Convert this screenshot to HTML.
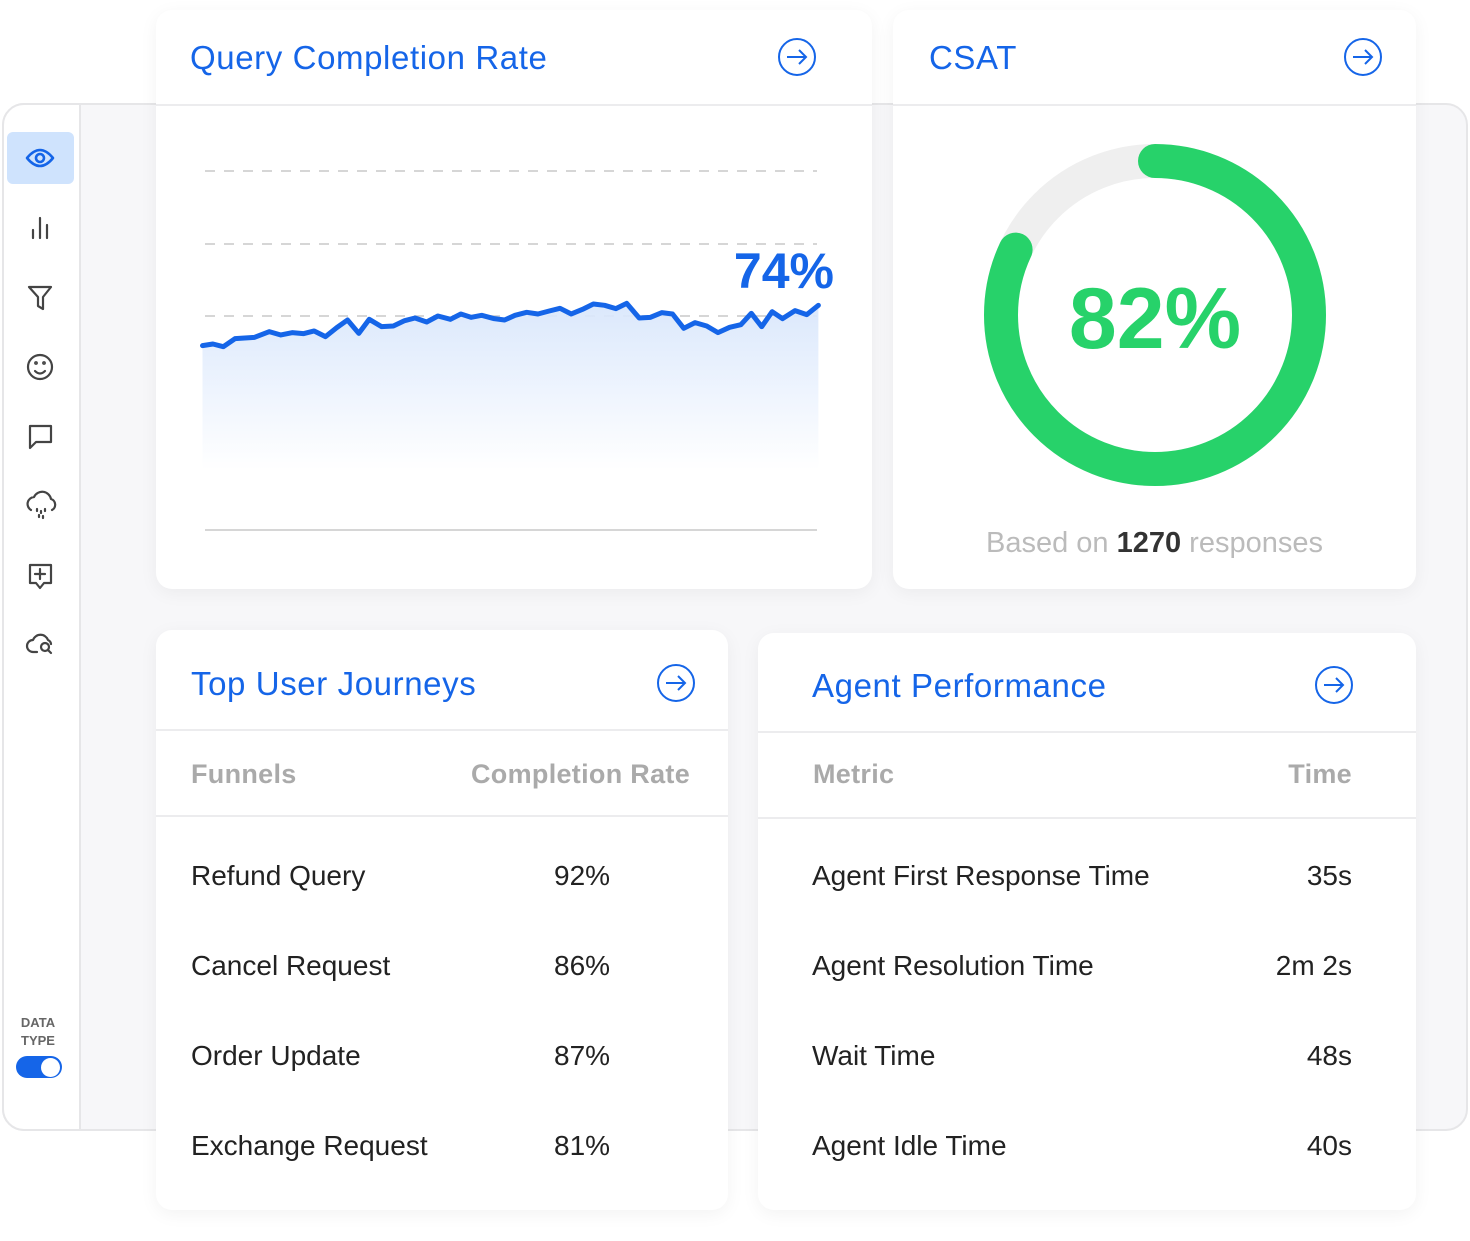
<!DOCTYPE html>
<html><head><style>
*{margin:0;padding:0;box-sizing:border-box}
body{width:1470px;height:1241px;background:#fff;position:relative;overflow:hidden;font-family:"Liberation Sans",sans-serif}
.bg{position:absolute;left:2px;top:103px;width:1466px;height:1028px;border:2px solid #e6e6e8;border-radius:22px;background:#f7f7f9}
.side{position:absolute;left:2px;top:103px;width:79px;height:1028px;background:#fff;border-radius:22px 0 0 22px;border:2px solid #e6e6e8}
.act{position:absolute;left:7px;top:132px;width:67px;height:52px;background:#cfe3fd;border-radius:6px}
.card{position:absolute;background:#fff;border-radius:16px;box-shadow:0 4px 18px rgba(0,0,0,0.05)}
.title{position:absolute;font-size:33px;letter-spacing:0.6px;color:#1565e8;white-space:nowrap}
.hl{position:absolute;left:0;right:0;height:2px;background:#ececee}
.t{position:absolute;font-size:28px;color:#222;white-space:nowrap}
.h{position:absolute;font-size:27px;letter-spacing:0.3px;color:#aaa;font-weight:bold;white-space:nowrap}
.r{text-align:right}
</style></head><body>
<div class="bg"></div>
<div class="side"></div>
<div class="act"></div>
<svg style="position:absolute;left:0;top:0" width="90" height="700" fill="none" stroke="#444" stroke-width="2.2" stroke-linecap="round" stroke-linejoin="round">
<g stroke="#1565e8" stroke-width="2.6"><path d="M27 158 Q40 142 53 158 Q40 174 27 158Z"/><circle cx="40" cy="158" r="4"/></g>
<path d="M33 230v8M40 218v20M47 225v13"/>
<path d="M29 287h22l-8 10v12l-5-3v-9z"/>
<circle cx="40" cy="367" r="12"/><path d="M35 371q5 5 10 0"/><circle cx="36" cy="363" r="0.8"/><circle cx="44" cy="363" r="0.8"/>
<path d="M30 426h21v16H36l-6 6z"/>
<path d="M31 510a7 7 0 0 1 3-13a9 9 0 0 1 17 2a6 6 0 0 1 1 11M37 509v2M41 511v2M45 509v2M39 515v2M43 516v2"/>
<path d="M30 565h21v18h-7l-4 5-4-5h-6zM40 569v10M35 574h10"/>
<path d="M37 652h-4a6 6 0 0 1 0-12a8 8 0 0 1 15 0a5 5 0 0 1 3 4"/><circle cx="45" cy="647" r="4"/><path d="M48 650l3 3"/>
</svg>
<div style="position:absolute;left:20px;top:1014px;font-size:13px;color:#666;font-weight:bold;line-height:18px;text-align:center;width:36px">DATA TYPE</div>
<div style="position:absolute;left:16px;top:1056px;width:46px;height:22px;border-radius:11px;background:#1565e8"></div>
<div style="position:absolute;left:41px;top:1058px;width:19px;height:19px;border-radius:50%;background:#fff"></div>

<div class="card" style="left:156px;top:10px;width:716px;height:579px">
<div class="hl" style="top:94px"></div>
<div class="title" style="left:34px;top:29px">Query Completion Rate</div>
</div>
<div class="card" style="left:893px;top:10px;width:523px;height:579px">
<div class="hl" style="top:94px"></div>
<div class="title" style="left:36px;top:29px">CSAT</div>
<div style="position:absolute;left:0;width:523px;top:517px;text-align:center;font-size:29px;color:#bbb">Based on <b style="color:#333">1270</b> responses</div>
</div>
<div class="card" style="left:156px;top:630px;width:572px;height:580px">
<div class="title" style="left:35px;top:35px">Top User Journeys</div>
<div class="hl" style="top:99px"></div>
<div class="h" style="left:35px;top:129px">Funnels</div>
<div class="h" style="left:315px;top:129px">Completion Rate</div>
<div class="hl" style="top:185px"></div>
<div class="t" style="left:35px;top:230px">Refund Query</div><div class="t" style="left:398px;top:230px">92%</div>
<div class="t" style="left:35px;top:320px">Cancel Request</div><div class="t" style="left:398px;top:320px">86%</div>
<div class="t" style="left:35px;top:410px">Order Update</div><div class="t" style="left:398px;top:410px">87%</div>
<div class="t" style="left:35px;top:500px">Exchange Request</div><div class="t" style="left:398px;top:500px">81%</div>
</div>
<div class="card" style="left:758px;top:633px;width:658px;height:577px">
<div class="title" style="left:54px;top:34px">Agent Performance</div>
<div class="hl" style="top:98px"></div>
<div class="h" style="left:55px;top:126px">Metric</div>
<div class="h r" style="right:64px;top:126px">Time</div>
<div class="hl" style="top:184px"></div>
<div class="t" style="left:54px;top:227px">Agent First Response Time</div><div class="t r" style="right:64px;top:227px">35s</div>
<div class="t" style="left:54px;top:317px">Agent Resolution Time</div><div class="t r" style="right:64px;top:317px">2m 2s</div>
<div class="t" style="left:54px;top:407px">Wait Time</div><div class="t r" style="right:64px;top:407px">48s</div>
<div class="t" style="left:54px;top:497px">Agent Idle Time</div><div class="t r" style="right:64px;top:497px">40s</div>
</div>

<svg style="position:absolute;left:0;top:0" width="1470" height="1241" fill="none">
<defs><linearGradient id="g" x1="0" y1="0" x2="0" y2="1"><stop offset="0" stop-color="#dbe8fc"/><stop offset="1" stop-color="#dbe8fc" stop-opacity="0"/></linearGradient></defs>
<g stroke="#1565e8" stroke-width="2"><circle cx="797" cy="57" r="18"/><path d="M787 57h19M799 50l7 7-7 7"/>
<circle cx="1363" cy="57" r="18"/><path d="M1353 57h19M1365 50l7 7-7 7"/>
<circle cx="676" cy="683" r="18"/><path d="M666 683h19M678 676l7 7-7 7"/>
<circle cx="1334" cy="685" r="18"/><path d="M1324 685h19M1336 678l7 7-7 7"/></g>
<g stroke="#c8c8c8" stroke-width="1.5" stroke-dasharray="10 9"><path d="M205 171H817M205 244H817M205 316H817"/></g>
<path d="M205 530H817" stroke="#c8c8c8" stroke-width="1.5"/>
<g transform="translate(190,230) scale(0.4167,0.3333)">
<path fill="url(#g)" stroke="none" d="M30 347L55 342L80 350L108 326L155 322L190 305L218 315L245 308L272 311L298 303L325 320L352 293L378 270L405 310L430 268L460 290L488 288L515 272L540 264L568 276L595 258L625 268L650 252L675 262L700 256L730 266L755 270L780 256L808 247L835 252L862 243L888 235L915 252L942 238L968 222L995 226L1022 236L1048 220L1078 264L1105 262L1132 248L1158 252L1185 295L1212 278L1240 288L1267 308L1295 292L1322 284L1347 250L1372 290L1397 245L1422 266L1452 242L1480 254L1508 226L1508 720L30 720Z"/>
<path stroke="#1565e8" stroke-width="5" vector-effect="non-scaling-stroke" stroke-linejoin="round" stroke-linecap="round" d="M30 347L55 342L80 350L108 326L155 322L190 305L218 315L245 308L272 311L298 303L325 320L352 293L378 270L405 310L430 268L460 290L488 288L515 272L540 264L568 276L595 258L625 268L650 252L675 262L700 256L730 266L755 270L780 256L808 247L835 252L862 243L888 235L915 252L942 238L968 222L995 226L1022 236L1048 220L1078 264L1105 262L1132 248L1158 252L1185 295L1212 278L1240 288L1267 308L1295 292L1322 284L1347 250L1372 290L1397 245L1422 266L1452 242L1480 254L1508 226"/>
</g>
<text x="834" y="288" text-anchor="end" font-family="Liberation Sans,sans-serif" font-weight="bold" font-size="50" fill="#1565e8">74%</text>
<circle cx="1155" cy="315" r="154" stroke="#efefef" stroke-width="34"/>
<circle cx="1155" cy="315" r="154" stroke="#27d26a" stroke-width="34" stroke-linecap="round" stroke-dasharray="793 2000" transform="rotate(-90 1155 315)"/>
<text x="1155" y="348" text-anchor="middle" font-family="Liberation Sans,sans-serif" font-weight="bold" font-size="86" fill="#27d26a">82%</text>
</svg>
</body></html>
